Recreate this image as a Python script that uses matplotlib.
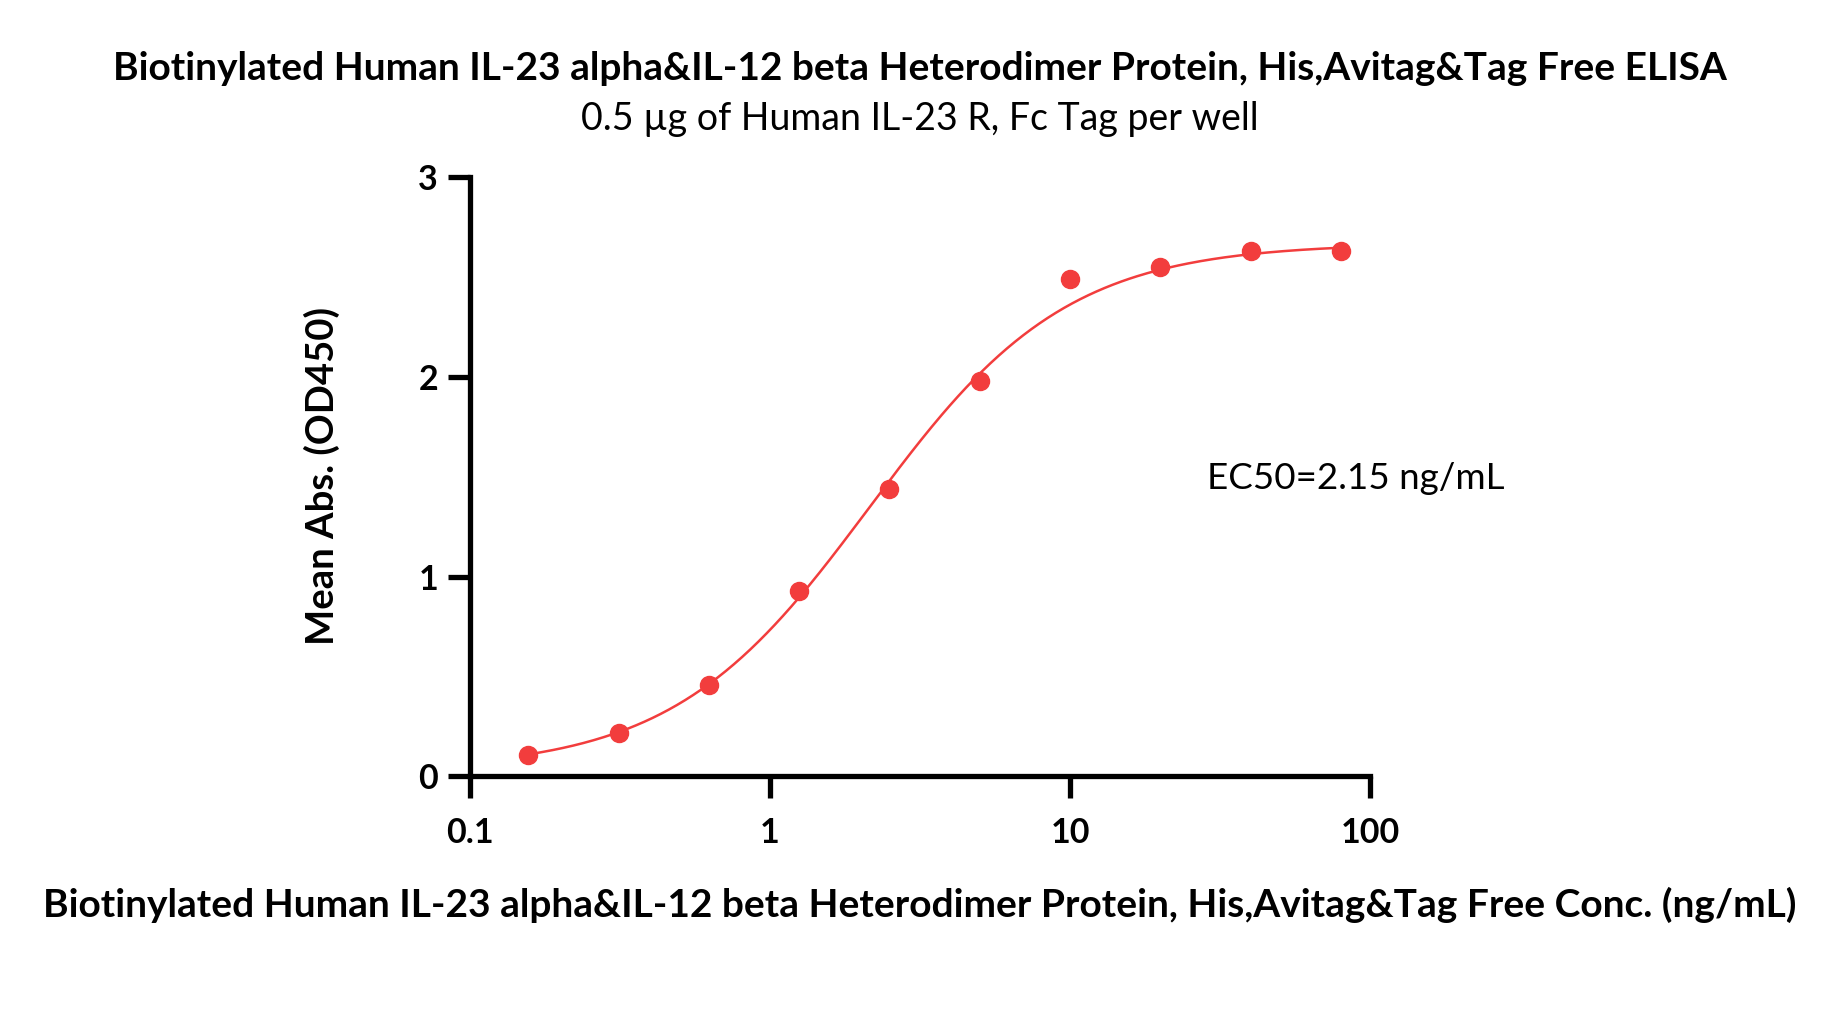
import numpy as np
import matplotlib
matplotlib.use("Agg")
import matplotlib.pyplot as plt

plt.rcParams['font.family'] = ['Lato', 'DejaVu Sans']

# Data
conc = [0.15625, 0.3125, 0.625, 1.25, 2.5, 5, 10, 20, 40, 80]
od450 = [0.106, 0.218, 0.459, 0.929, 1.44, 1.98, 2.49, 2.55, 2.63, 2.63]

# 4PL fit parameters
fit_bottom = 0.03
fit_top = 2.67
fit_ec50 = 2.15
fit_hill = 1.32

x_ticks = [0.1, 1, 10, 100]
x_ticklabels = ["0.1", "1", "10", "100"]
y_ticks = [0, 1, 2, 3]

title = "Biotinylated Human IL-23 alpha&IL-12 beta Heterodimer Protein, His,Avitag&Tag Free ELISA"
subtitle = "0.5 µg of Human IL-23 R, Fc Tag per well"
xlabel = "Biotinylated Human IL-23 alpha&IL-12 beta Heterodimer Protein, His,Avitag&Tag Free Conc. (ng/mL)"
ylabel = "Mean Abs. (OD450)"
ec50_text = "EC50=2.15 ng/mL"

color = '#F23D3D'

fig = plt.figure(figsize=(18.42, 10.23), dpi=100)
ax = fig.add_axes([0.2552, 0.2410, 0.4886, 0.5856])

xs = np.logspace(np.log10(conc[0]), np.log10(conc[-1]), 400)
r = (xs / fit_ec50) ** fit_hill
ys = fit_bottom + (fit_top - fit_bottom) * r / (1 + r)
ax.plot(xs, ys, color=color, lw=1.8, zorder=2)
ax.plot(conc, od450, 'o', color=color, ms=13, zorder=3, clip_on=False)

ax.set_xscale('log')
ax.set_xlim(0.1, 100)
ax.set_ylim(0, 3)
ax.set_xticks(x_ticks)
ax.set_xticklabels(x_ticklabels)
ax.set_yticks(y_ticks)
ax.xaxis.set_minor_locator(matplotlib.ticker.NullLocator())

for s in ['top', 'right']:
    ax.spines[s].set_visible(False)
for s in ['left', 'bottom']:
    ax.spines[s].set_linewidth(3.8)
    ax.spines[s].set_capstyle('projecting')

ax.tick_params(axis='both', which='major', width=3.8, length=16, labelsize=24.5, direction='out')
ax.tick_params(axis='x', pad=13)
ax.tick_params(axis='y', pad=7)
for lbl in ax.get_xticklabels() + ax.get_yticklabels():
    lbl.set_fontweight('bold')

ax.text(28.5, 1.49, ec50_text, fontsize=26.5, ha='left', va='center')

fig.text(0.4995, 0.933, title, fontsize=28, fontweight='bold', ha='center', va='center')
fig.text(0.4995, 0.884, subtitle, fontsize=27, ha='center', va='center')
fig.text(0.4995, 0.115, xlabel, fontsize=28, fontweight='bold', ha='center', va='center')
fig.text(0.175, 0.535, ylabel, fontsize=27.5, fontweight='bold', ha='center', va='center', rotation=90)

fig.savefig('out.png', dpi=100, facecolor='white')
